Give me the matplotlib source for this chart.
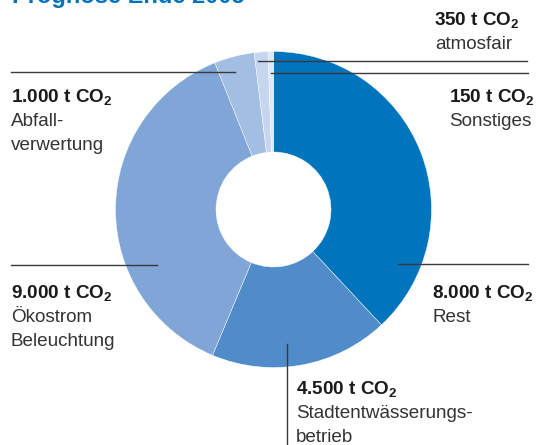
import matplotlib
matplotlib.use("Agg")
import matplotlib.pyplot as plt

plt.rcParams['font.family'] = ['Liberation Sans', 'DejaVu Sans']
plt.rcParams['mathtext.fontset'] = 'custom'
plt.rcParams['mathtext.rm'] = 'Liberation Sans:bold'
plt.rcParams['mathtext.default'] = 'rm'

title = "Prognose Ende 2005"
categories = ["Rest", "Stadtentwässerungs-\nbetrieb", "Ökostrom\nBeleuchtung",
              "Abfall-\nverwertung", "atmosfair", "Sonstiges"]
values_t = ["8.000", "4.500", "9.000", "1.000", "350", "150"]
# angular shares of the ring as drawn in the reference (percent)
shares = [38.0, 18.25, 37.6, 4.1, 1.4, 0.55]
colors = ["#0074bd", "#508cca", "#7fa6d7", "#a3bee3", "#c5d6ee", "#dde7f6"]

W, H = 538, 445
fig = plt.figure(figsize=(W / 100, H / 100), dpi=100)
ax = fig.add_axes([0, 0, 1, 1])

def Y(y):
    return H - y

cx, cy, R, r_in = 273.5, 209.5, 158, 57.5
ax.pie(shares, colors=colors, startangle=90, counterclock=False,
       center=(cx, Y(cy)), radius=R,
       wedgeprops=dict(width=R - r_in, edgecolor="white", linewidth=0.3))
ax.set_xlim(0, W)
ax.set_ylim(0, H)
ax.set_aspect('equal')
ax.axis('off')

# title (cut off at top)
ax.text(12, Y(2.5), title, color="#0072bc", fontsize=17, fontweight='bold',
        ha='left', va='baseline')

lc = "#3a3a3a"
lw = 1.0
fs = 13.6
bc = "#1a1a1a"
tc = "#333333"

def label(x, y, idx, ha='left'):
    ax.text(x, Y(y), values_t[idx] + " t CO$_2$", fontsize=fs, fontweight='bold',
            color=bc, ha=ha, va='baseline')
    for k, line in enumerate(categories[idx].split("\n")):
        ax.text(x, Y(y + 24 * (k + 1)), line, fontsize=fs, color=tc,
                ha=ha, va='baseline')

# atmosfair (top right, right aligned)
ax.plot([258, 527], [Y(61), Y(61)], color=lc, lw=lw)
ax.text(520, Y(25), values_t[4] + " t CO$_2$", fontsize=fs, fontweight='bold',
        color=bc, ha='right', va='baseline')
ax.text(512, Y(49), categories[4], fontsize=fs, color=tc, ha='right', va='baseline')

# Sonstiges
ax.plot([271, 528], [Y(73), Y(73)], color=lc, lw=lw)
label(449, 102, 5)

# Abfall
ax.plot([11, 235], [Y(72), Y(72)], color=lc, lw=lw)
label(11, 102, 3)

# Ökostrom
ax.plot([11, 157], [Y(265), Y(265)], color=lc, lw=lw)
label(11, 298, 2)

# Rest
ax.plot([398, 528], [Y(264), Y(264)], color=lc, lw=lw)
label(432, 298, 0)

# Stadtentwässerung
ax.plot([287, 287], [Y(344), Y(445)], color=lc, lw=lw)
label(296, 394, 1)

fig.savefig("out.png", dpi=100)
